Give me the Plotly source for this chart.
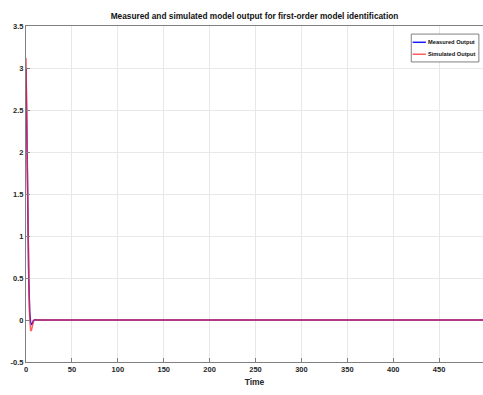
import plotly.graph_objects as go

# Time samples (step 1 s, 0..500)
time = list(range(0, 501))
# Transient part; afterwards both outputs stay at 0
measured_head = [3.0, 2.0, 1.2, 0.5, 0.1, -0.03, -0.05, -0.04, -0.01, 0.005, 0.005, 0.0]
simulated_head = [3.12, 2.1, 1.2, 0.5, 0.05, -0.13, -0.12, -0.06, -0.02, 0.0, 0.0, 0.0]
measured = measured_head + [0.0] * (len(time) - len(measured_head))
simulated = simulated_head + [0.0] * (len(time) - len(simulated_head))

series_names = ["Measured Output", "Simulated Output"]
series_colors = ["#1a1aff", "#ff2a2a"]

x_ticks = [0, 50, 100, 150, 200, 250, 300, 350, 400, 450, 500]
y_ticks = [-0.5, 0, 0.5, 1, 1.5, 2, 2.5, 3, 3.5]
y_labels = ["-0.5", "0", "0.5", "1", "1.5", "2", "2.5", "3", "3.5"]

FONT = "Liberation Sans, Arial"

fig = go.Figure()
fig.add_trace(go.Scatter(x=time, y=measured, mode="lines", name=series_names[0],
                         line=dict(color=series_colors[0], width=1.5), showlegend=False))
fig.add_trace(go.Scatter(x=time, y=simulated, mode="lines", name=series_names[1],
                         line=dict(color=series_colors[1], width=1.5), opacity=0.75,
                         showlegend=False))

# Compact legend box (MATLAB style), drawn in paper coordinates
lx0, lx1, ly0, ly1 = 0.843, 0.991, 0.893, 0.976
fig.add_shape(type="rect", xref="paper", yref="paper", x0=lx0, x1=lx1, y0=ly0, y1=ly1,
              line=dict(color="#808080", width=1), fillcolor="white", layer="above")
row_y = [0.9515, 0.916]
for name, color, ry, op in zip(series_names, series_colors, row_y, [1.0, 0.75]):
    fig.add_shape(type="line", xref="paper", yref="paper", x0=lx0 + 0.003, x1=lx0 + 0.032,
                  y0=ry, y1=ry, line=dict(color=color, width=1.5), opacity=op, layer="above")
    fig.add_annotation(xref="paper", yref="paper", x=lx0 + 0.033, y=ry, text=name,
                       showarrow=False, xanchor="left", yanchor="middle",
                       font=dict(size=5.7, family=FONT, color="#111111", weight="bold"))

axis_common = dict(showgrid=True, gridcolor="#e8e8e8", gridwidth=1,
                   showline=True, linecolor="#808080", linewidth=1, mirror=True,
                   ticks="inside", ticklen=4, tickcolor="#808080", zeroline=False,
                   tickfont=dict(size=7.5, color="#262626", family=FONT, weight="bold"))

fig.update_layout(
    width=483, height=395,
    margin=dict(l=26, r=0, t=26, b=33),
    paper_bgcolor="white", plot_bgcolor="white",
    font=dict(family=FONT, color="#262626", weight="bold"),
    title=dict(text="Measured and simulated model output for first-order model identification",
               x=0.5, xref="paper", xanchor="center", y=1 - 16 / 395, yanchor="middle",
               font=dict(size=8.3, family=FONT, color="#111111", weight="bold")),
    xaxis=dict(range=[0, 497.8], tickvals=x_ticks,
               title=dict(text="Time", font=dict(size=8.5, weight="bold", family=FONT), standoff=6),
               **axis_common),
    yaxis=dict(range=[-0.5, 3.5], tickvals=y_ticks, ticktext=y_labels, **axis_common),
    showlegend=False,
)

fig.write_html("out.html")
